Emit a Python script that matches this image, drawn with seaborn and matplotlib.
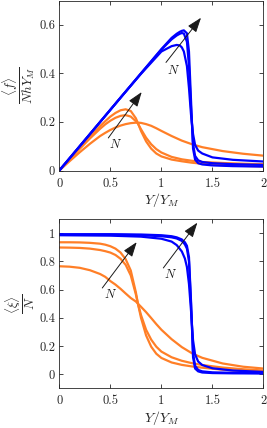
import matplotlib
matplotlib.use("Agg")
import matplotlib.pyplot as plt
import seaborn as sns
import numpy as np
import pandas as pd

# ---------------- data ----------------
# top panel: <f>/(N h Y_M)
xb_top = [0, 0.2, 0.4, 0.6, 0.8, 1.0, 1.1, 1.15, 1.18, 1.2, 1.22, 1.25, 1.27, 1.29, 1.31, 1.33, 1.36, 1.4, 1.5, 1.7, 2.0]
f_blue1 = [0, 0.1, 0.2, 0.3, 0.398, 0.49, 0.512, 0.517, 0.515, 0.507, 0.49, 0.43, 0.34, 0.23, 0.15, 0.105, 0.082, 0.07, 0.054, 0.044, 0.037]
f_blue2 = [0, 0.1, 0.2, 0.3, 0.4, 0.498, 0.54, 0.556, 0.563, 0.566, 0.564, 0.53, 0.43, 0.26, 0.11, 0.06, 0.042, 0.035, 0.03, 0.026, 0.023]
f_blue3 = [0, 0.1, 0.2, 0.3, 0.4, 0.5, 0.546, 0.563, 0.571, 0.575, 0.577, 0.565, 0.49, 0.29, 0.09, 0.045, 0.03, 0.025, 0.021, 0.018, 0.016]

xo = [0, 0.1, 0.2, 0.3, 0.4, 0.45, 0.5, 0.55, 0.6, 0.65, 0.7, 0.75, 0.77, 0.8, 0.85, 0.9, 0.95, 1.0, 1.1, 1.2, 1.3, 1.4, 1.6, 1.8, 2.0]
f_or_a = [0, 0.046, 0.093, 0.139, 0.183, 0.203, 0.222, 0.237, 0.248, 0.252, 0.245, 0.215, 0.195, 0.163, 0.12, 0.09, 0.07, 0.058, 0.045, 0.038, 0.032, 0.028, 0.023, 0.019, 0.017]
f_or_b = [0, 0.045, 0.089, 0.132, 0.172, 0.19, 0.205, 0.217, 0.225, 0.228, 0.222, 0.203, 0.193, 0.17, 0.135, 0.108, 0.088, 0.074, 0.056, 0.046, 0.04, 0.035, 0.031, 0.028, 0.026]
f_or_c = [0, 0.038, 0.075, 0.11, 0.142, 0.155, 0.167, 0.177, 0.185, 0.191, 0.195, 0.197, 0.197, 0.196, 0.191, 0.184, 0.174, 0.163, 0.142, 0.123, 0.108, 0.096, 0.08, 0.069, 0.061]

# bottom panel: <xi>/N
xb_bot = [0, 0.5, 0.8, 1.0, 1.1, 1.15, 1.2, 1.23, 1.25, 1.27, 1.29, 1.31, 1.33, 1.36, 1.4, 1.5, 1.7, 2.0]
xi_blue1 = [0.985, 0.982, 0.975, 0.96, 0.94, 0.915, 0.87, 0.82, 0.76, 0.64, 0.45, 0.24, 0.14, 0.09, 0.065, 0.042, 0.026, 0.016]
xi_blue2 = [0.99, 0.99, 0.985, 0.978, 0.97, 0.962, 0.945, 0.92, 0.89, 0.8, 0.5, 0.15, 0.06, 0.03, 0.02, 0.013, 0.01, 0.008]
xi_blue3 = [0.992, 0.992, 0.99, 0.985, 0.978, 0.97, 0.955, 0.935, 0.91, 0.83, 0.52, 0.12, 0.04, 0.02, 0.012, 0.008, 0.006, 0.005]

xi_or_a = [0.935, 0.935, 0.934, 0.931, 0.925, 0.918, 0.907, 0.89, 0.862, 0.815, 0.735, 0.58, 0.5, 0.40, 0.275, 0.195, 0.145, 0.115, 0.083, 0.066, 0.055, 0.046, 0.032, 0.022, 0.015]
xi_or_b = [0.898, 0.897, 0.895, 0.89, 0.88, 0.872, 0.862, 0.845, 0.818, 0.775, 0.70, 0.565, 0.5, 0.42, 0.315, 0.245, 0.195, 0.16, 0.12, 0.095, 0.078, 0.065, 0.047, 0.035, 0.026]
xi_or_c = [0.765, 0.762, 0.754, 0.737, 0.71, 0.69, 0.66, 0.635, 0.605, 0.572, 0.54, 0.515, 0.5, 0.478, 0.44, 0.398, 0.355, 0.315, 0.248, 0.192, 0.148, 0.116, 0.076, 0.053, 0.04]

xticks = [0, 0.5, 1, 1.5, 2]
xticklabels = ["0", "0.5", "1", "1.5", "2"]
yticks_top = [0, 0.2, 0.4, 0.6]
yticklabels_top = ["0", "0.2", "0.4", "0.6"]
yticks_bot = [0, 0.2, 0.4, 0.6, 0.8, 1.0]
yticklabels_bot = ["0", "0.2", "0.4", "0.6", "0.8", "1"]

# arrows: (tail, tip, label position)
arrows_top = [((1.045, 0.445), (1.388, 0.629), (1.123, 0.412)),
              ((0.48, 0.134), (0.807, 0.323), (0.546, 0.108))]
arrows_bot = [((1.019, 0.753), (1.352, 1.074), (1.091, 0.705)),
              ((0.421, 0.611), (0.758, 0.936), (0.497, 0.567))]

BLUE = "#0000ff"
ORANGE = "#ff7f27"
AXC = "#262626"

# ---------------- style ----------------
sns.set_theme(style="white")
plt.rcParams["font.family"] = ["cmr10", "DejaVu Serif"]
plt.rcParams["mathtext.fontset"] = "cm"
plt.rcParams["axes.formatter.use_mathtext"] = True

fig = plt.figure(figsize=(2.67, 4.28), dpi=100)
W, H = 267.0, 428.0
ax1 = fig.add_axes([59.3 / W, 1 - 170.5 / H, 204.2 / W, 170.0 / H])
ax2 = fig.add_axes([59.3 / W, 1 - 388.3 / H, 204.2 / W, 169.3 / H])


def curve(ax, xs, ys, color):
    df = pd.DataFrame({"x": xs, "y": ys})
    sns.lineplot(data=df, x="x", y="y", color=color, lw=1.6, ax=ax,
                 sort=False, estimator=None, legend=False)


for ys in (f_or_c, f_or_b, f_or_a):
    curve(ax1, xo, ys, ORANGE)
for ys in (f_blue1, f_blue2, f_blue3):
    curve(ax1, xb_top, ys, BLUE)
for ys in (xi_or_c, xi_or_b, xi_or_a):
    curve(ax2, xo, ys, ORANGE)
for ys in (xi_blue1, xi_blue2, xi_blue3):
    curve(ax2, xb_bot, ys, BLUE)


def style(ax, ylim, yt, ytl, ylabel, ylx):
    ax.set_xlim(0, 2)
    ax.set_ylim(*ylim)
    ax.set_xticks(xticks)
    ax.set_xticklabels(xticklabels)
    ax.set_yticks(yt)
    ax.set_yticklabels(ytl)
    ax.tick_params(direction="in", length=3, width=0.6, colors=AXC,
                   labelsize=9, top=True, right=True, bottom=True, left=True)
    ax.tick_params(axis="x", pad=5)
    ax.tick_params(axis="y", pad=3)
    for s in ax.spines.values():
        s.set_color(AXC)
        s.set_linewidth(0.6)
    ax.set_xlabel(r"$Y/Y_M$", fontsize=10, color=AXC, labelpad=1)
    ax.set_ylabel(ylabel, fontsize=9.5, color=AXC)
    ax.yaxis.set_label_coords(ylx, 0.5)
    ax.grid(False)


style(ax1, (0, 0.7), yticks_top, yticklabels_top, r"$\dfrac{\langle f\rangle}{NhY_M}$", -0.11)
style(ax2, (-0.1, 1.1), yticks_bot, yticklabels_bot, r"$\dfrac{\langle\xi\rangle}{N}$", -0.11)


def draw_arrows(ax, arrows):
    for tail, tip, lab in arrows:
        ax.annotate("", xy=tip, xytext=tail,
                    arrowprops=dict(arrowstyle="-|>,head_length=0.9,head_width=0.32",
                                    color="k", lw=0.7, shrinkA=0, shrinkB=0,
                                    mutation_scale=10))
        ax.text(lab[0], lab[1], r"$N$", fontsize=9, ha="center", va="center", color="k")


draw_arrows(ax1, arrows_top)
draw_arrows(ax2, arrows_bot)

fig.savefig("out.png", dpi=100)
